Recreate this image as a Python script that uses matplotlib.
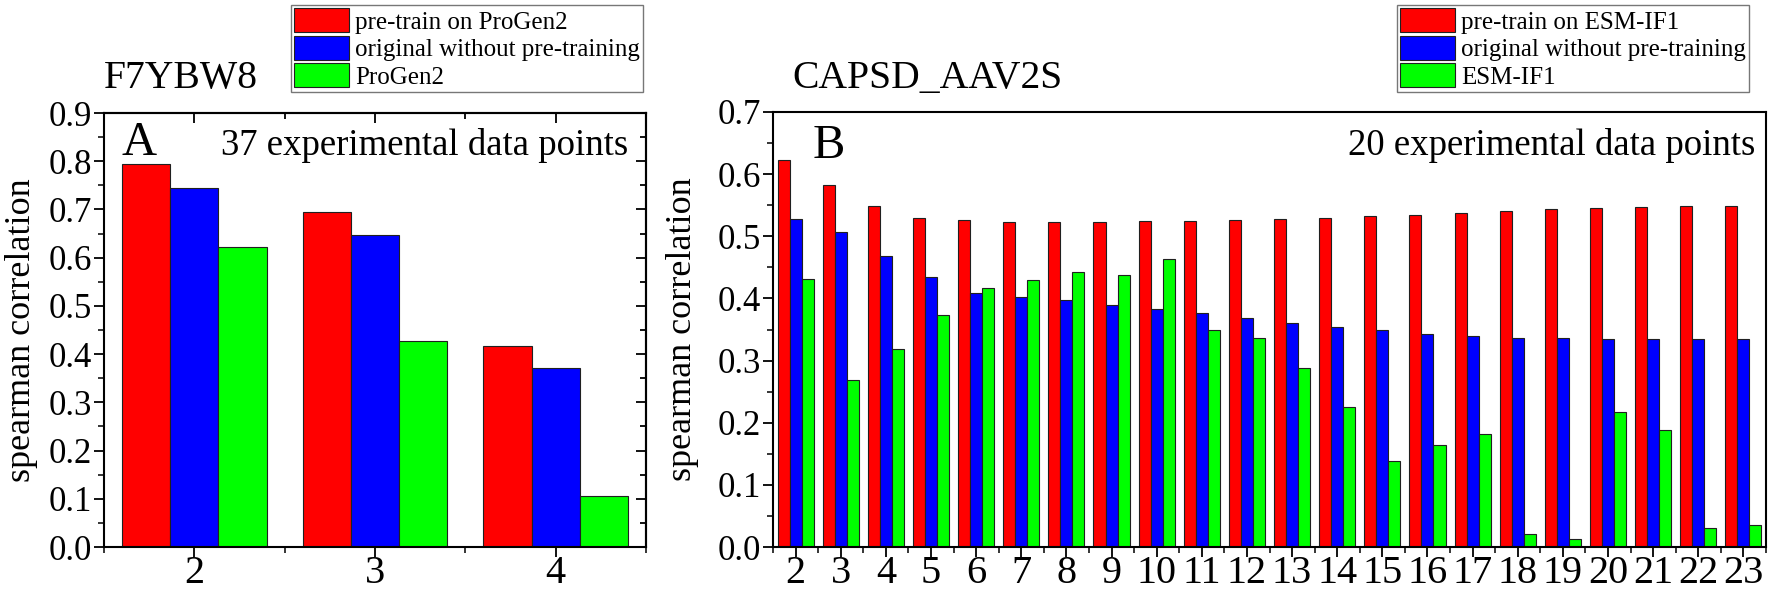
import matplotlib
matplotlib.use("Agg")
from matplotlib import pyplot as plt
from matplotlib.ticker import MultipleLocator, FormatStrFormatter
import numpy as np

plt.rcParams["font.family"] = ["Liberation Serif", "DejaVu Serif"]

# panel A - F7YBW8
a_groups = [2, 3, 4]
a_pretrain = [0.795, 0.694, 0.416]
a_original = [0.745, 0.647, 0.372]
a_base = [0.623, 0.427, 0.105]

# panel B - CAPSD_AAV2S
b_groups = list(range(2, 24))
b_pretrain = [0.622, 0.583, 0.548, 0.530, 0.526, 0.523, 0.523, 0.523, 0.525, 0.525, 0.527,
              0.528, 0.530, 0.532, 0.534, 0.538, 0.540, 0.544, 0.545, 0.547, 0.548, 0.549]
b_original = [0.528, 0.507, 0.468, 0.435, 0.409, 0.403, 0.398, 0.390, 0.383, 0.376, 0.368,
              0.361, 0.354, 0.349, 0.343, 0.340, 0.337, 0.337, 0.335, 0.335, 0.335, 0.335]
b_base = [0.432, 0.268, 0.319, 0.374, 0.416, 0.429, 0.443, 0.437, 0.464, 0.350, 0.337,
          0.288, 0.226, 0.139, 0.164, 0.182, 0.021, 0.013, 0.217, 0.189, 0.031, 0.036]

colors = ["#ff0000", "#0000ff", "#00ff00"]
W = 0.8 / 3


def draw_bars(ax, groups, series, labels):
    x = np.array(groups, dtype=float)
    handles = []
    for i, (vals, lab) in enumerate(zip(series, labels)):
        h = ax.bar(x + (i - 1) * W, vals, width=W, color=colors[i],
                   edgecolor="#202020", linewidth=0.8, label=lab)
        handles.append(h)
    return handles


def style_axis(ax, ymax, ylab_x):
    ax.set_ylim(0, ymax)
    ax.yaxis.set_major_locator(MultipleLocator(0.1))
    ax.yaxis.set_minor_locator(MultipleLocator(0.05))
    ax.yaxis.set_major_formatter(FormatStrFormatter("%.1f"))
    ax.xaxis.set_minor_locator(MultipleLocator(0.5))
    ax.tick_params(which="major", direction="out", length=7, width=1.3)
    ax.tick_params(which="minor", direction="out", length=4, width=1.1)
    ax.tick_params(axis="y", which="major", labelsize=25, pad=1.5)
    ax.tick_params(axis="x", which="major", labelsize=29, pad=-1)
    for s in ax.spines.values():
        s.set_linewidth(1.5)
    ax.set_ylabel("spearman correlation", fontsize=26)
    ax.yaxis.set_label_coords(ylab_x, 0.5)


fig = plt.figure(figsize=(17.7, 5.97), dpi=100)
axA = fig.add_axes([104 / 1770, 50 / 597, 542 / 1770, 434 / 597])
axB = fig.add_axes([773 / 1770, 50 / 597, 993 / 1770, 435 / 597])

hA = draw_bars(axA, a_groups, [a_pretrain, a_original, a_base],
               ["pre-train on ProGen2", "original without pre-training", "ProGen2"])
axA.set_xlim(1.5, 4.5)
axA.set_xticks(a_groups)
style_axis(axA, 0.9, -0.122)
top = axA.secondary_xaxis("top")
top.set_xticks(a_groups)
top.xaxis.set_minor_locator(MultipleLocator(0.5))
top.tick_params(which="both", direction="in", labeltop=False, width=1.3)
top.tick_params(which="major", length=7)
top.tick_params(which="minor", length=4)
right = axA.secondary_yaxis("right")
right.yaxis.set_major_locator(MultipleLocator(0.1))
right.yaxis.set_minor_locator(MultipleLocator(0.05))
right.tick_params(which="both", direction="in", labelright=False, width=1.3)
right.tick_params(which="major", length=7)
right.tick_params(which="minor", length=4)
for sec in (top, right):
    for s in sec.spines.values():
        s.set_linewidth(1.5)

hB = draw_bars(axB, b_groups, [b_pretrain, b_original, b_base],
               ["pre-train on ESM-IF1", "original without pre-training", "ESM-IF1"])
axB.set_xlim(1.5, 23.5)
axB.set_xticks(b_groups)
style_axis(axB, 0.7, -0.075)

axA.text(0.0, 1.058, "F7YBW8", transform=axA.transAxes, fontsize=28.5, va="baseline", ha="left")
axB.text(0.02, 1.055, "CAPSD_AAV2S", transform=axB.transAxes, fontsize=28.5, va="baseline", ha="left")
axA.text(0.033, 0.903, "A", transform=axA.transAxes, fontsize=35, va="baseline", ha="left")
axB.text(0.04, 0.894, "B", transform=axB.transAxes, fontsize=35, va="baseline", ha="left")
axA.text(0.967, 0.903, "37 experimental data points", transform=axA.transAxes,
         fontsize=26.5, va="baseline", ha="right")
axB.text(0.989, 0.901, "20 experimental data points", transform=axB.transAxes,
         fontsize=26.5, va="baseline", ha="right")

leg_kw = dict(loc="upper right", bbox_transform=fig.transFigure, fontsize=18, frameon=True,
              fancybox=False, edgecolor="#777777", framealpha=1, borderpad=0.12,
              labelspacing=0.08, handlelength=2.2, handleheight=1.1, handletextpad=0.25,
              borderaxespad=0)
legA = axA.legend(handles=hA, bbox_to_anchor=(643 / 1770, 1 - 5 / 597), **leg_kw)
legB = axB.legend(handles=hB, bbox_to_anchor=(1749 / 1770, 1 - 5 / 597), **leg_kw)
for leg in (legA, legB):
    leg.get_frame().set_linewidth(1.0)

fig.savefig("out.png", dpi=100)
